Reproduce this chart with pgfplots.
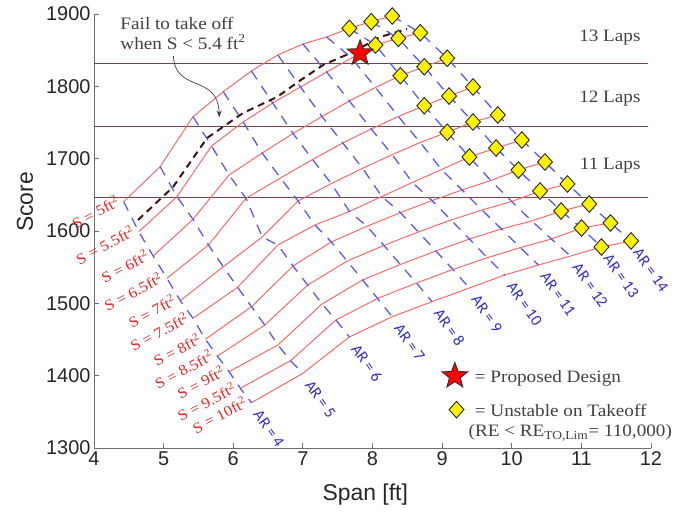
\documentclass[border=0pt]{standalone}
\usepackage{pgfplots}
\pgfplotsset{compat=1.18}
\usepackage{pgfplotstable}
\usepackage{fontspec}
\setmainfont{Liberation Serif}[FakeStretch=1.1]
\newfontfamily\sansf{Liberation Sans}
\newfontfamily\calib{Carlito}
\usetikzlibrary{arrows.meta}

\definecolor{redline}{RGB}{250,105,105}
\definecolor{redtext}{RGB}{235,35,35}
\definecolor{blueline}{RGB}{90,90,240}
\definecolor{bluetext}{RGB}{45,45,200}
\definecolor{lapline}{RGB}{115,70,70}
\definecolor{darktext}{RGB}{64,64,64}
\definecolor{faildash}{RGB}{60,20,20}
\definecolor{axgray}{RGB}{110,110,110}

\tikzset{
  slab/.style={anchor=base east, xshift=-2bp, yshift=-3bp, rotate=28, text=redtext, font=\fontsize{15}{15}\selectfont, inner sep=1bp},
  alab/.style={anchor=west, xshift=5bp, yshift=-8bp, rotate=-55, text=bluetext, font=\calib\fontsize{16}{16}\selectfont, inner sep=1bp},
  dtxt/.style={text=darktext, font=\fontsize{17.5}{19}\selectfont},
}

\pgfdeclareplotmark{fstar}{%
  \pgfpathmoveto{\pgfpointpolar{90}{\pgfplotmarksize}}%
  \pgfpathlineto{\pgfpointpolar{126}{0.42\pgfplotmarksize}}%
  \pgfpathlineto{\pgfpointpolar{162}{\pgfplotmarksize}}%
  \pgfpathlineto{\pgfpointpolar{198}{0.42\pgfplotmarksize}}%
  \pgfpathlineto{\pgfpointpolar{234}{\pgfplotmarksize}}%
  \pgfpathlineto{\pgfpointpolar{270}{0.42\pgfplotmarksize}}%
  \pgfpathlineto{\pgfpointpolar{306}{\pgfplotmarksize}}%
  \pgfpathlineto{\pgfpointpolar{342}{0.42\pgfplotmarksize}}%
  \pgfpathlineto{\pgfpointpolar{18}{\pgfplotmarksize}}%
  \pgfpathlineto{\pgfpointpolar{54}{0.42\pgfplotmarksize}}%
  \pgfpathclose
  \pgfusepathqfillstroke
}

% constant-S curves: si = index of wing area S = 5 + 0.5*si ; b: span [ft] ; sc: score ; u: unstable on takeoff
\pgfplotstableread{
si AR b sc u
0 4 4.427 1640.5 0
0 5 4.950 1688.9 0
0 6 5.422 1758.0 0
0 7 5.857 1792.6 0
0 8 6.261 1821.2 0
0 9 6.641 1843.3 0
0 10 7.000 1858.5 0
0 11 7.342 1868.2 0
0 12 7.668 1880.2 1
0 13 7.982 1889.4 1
0 14 8.284 1897.2 1
1 4 4.643 1599.0 0
1 5 5.192 1647.4 0
1 6 5.688 1717.5 0
1 7 6.143 1750.7 0
1 8 6.567 1777.0 0
1 9 6.966 1799.1 0
1 10 7.342 1819.8 0
1 11 7.700 1839.2 0
1 12 8.043 1857.1 1
1 13 8.371 1866.4 1
1 14 8.687 1874.1 1
2 4 4.850 1565.4 0
2 5 5.422 1616.2 0
2 6 5.940 1677.4 0
2 7 6.416 1707.8 0
2 8 6.859 1734.8 0
2 9 7.275 1758.3 0
2 10 7.668 1779.7 0
2 11 8.043 1798.4 0
2 12 8.400 1814.7 1
2 13 8.744 1827.1 1
2 14 9.073 1838.8 1
3 4 5.048 1534.6 0
3 5 5.644 1580.6 0
3 6 6.183 1645.2 0
3 7 6.678 1673.3 0
3 8 7.139 1698.8 0
3 9 7.573 1721.7 0
3 10 7.982 1741.0 0
3 11 8.371 1758.3 0
3 12 8.744 1773.2 1
3 13 9.100 1786.6 1
3 14 9.444 1799.1 1
4 4 5.239 1503.6 0
4 5 5.857 1550.6 0
4 6 6.416 1591.7 0
4 7 6.930 1641.5 0
4 8 7.408 1665.5 0
4 9 7.858 1686.7 0
4 10 8.283 1705.6 0
4 11 8.687 1722.3 0
4 12 9.073 1736.5 1
4 13 9.444 1750.7 1
4 14 9.800 1760.4 1
5 4 5.422 1479.3 0
5 5 6.063 1522.2 0
5 6 6.641 1580.6 0
5 7 7.174 1608.3 0
5 8 7.669 1627.0 0
5 9 8.134 1647.7 0
5 10 8.573 1667.0 0
5 11 8.992 1685.0 0
5 12 9.392 1702.3 1
5 13 9.775 1714.7 1
5 14 10.145 1725.8 1
6 4 5.600 1450.3 0
6 5 6.262 1495.3 0
6 6 6.859 1551.6 0
6 7 7.408 1584.8 0
6 8 7.920 1606.5 0
6 9 8.400 1625.4 0
6 10 8.855 1642.0 0
6 11 9.287 1656.7 0
6 12 9.700 1669.8 0
6 13 10.096 1684.3 1
6 14 10.477 1695.4 1
7 4 5.773 1427.2 0
7 5 6.454 1470.0 0
7 6 7.070 1525.3 0
7 7 7.637 1558.5 0
7 8 8.164 1580.0 0
7 9 8.659 1598.6 0
7 10 9.128 1615.2 0
7 11 9.573 1629.0 0
7 12 9.999 1640.8 0
7 13 10.407 1655.3 1
7 14 10.800 1665.0 1
8 4 5.940 1405.5 0
8 5 6.641 1442.4 0
8 6 7.275 1499.1 0
8 7 7.858 1532.3 0
8 8 8.400 1553.7 0
8 9 8.910 1572.3 0
8 10 9.392 1588.9 0
8 11 9.851 1602.8 0
8 12 10.288 1613.8 0
8 13 10.709 1627.6 1
8 14 11.113 1637.3 1
9 4 6.102 1382.5 0
9 5 6.823 1420.7 0
9 6 7.475 1477.0 0
9 7 8.073 1506.7 0
9 8 8.631 1528.1 0
9 9 9.155 1546.8 0
9 10 9.650 1563.0 0
9 11 10.121 1577.0 0
9 12 10.570 1588.9 0
9 13 11.002 1604.1 1
9 14 11.418 1611.1 1
10 4 6.262 1362.6 0
10 5 7.000 1403.3 0
10 6 7.668 1453.5 0
10 7 8.283 1481.5 0
10 8 8.855 1502.3 0
10 9 9.392 1521.2 0
10 10 9.900 1539.2 0
10 11 10.383 1553.0 0
10 12 10.844 1565.4 0
10 13 11.288 1577.9 1
10 14 11.714 1586.2 1
}\grid

% the same grid, ordered by aspect ratio (constant-AR lines, S = 5 ... 10)
\pgfplotstableread{
AR b sc
4 4.427 1640.5
4 4.643 1599.0
4 4.850 1565.4
4 5.048 1534.6
4 5.239 1503.6
4 5.422 1479.3
4 5.600 1450.3
4 5.773 1427.2
4 5.940 1405.5
4 6.102 1382.5
4 6.262 1362.6
5 4.950 1688.9
5 5.192 1647.4
5 5.422 1616.2
5 5.644 1580.6
5 5.857 1550.6
5 6.063 1522.2
5 6.262 1495.3
5 6.454 1470.0
5 6.641 1442.4
5 6.823 1420.7
5 7.000 1403.3
6 5.422 1758.0
6 5.688 1717.5
6 5.940 1677.4
6 6.183 1645.2
6 6.416 1591.7
6 6.641 1580.6
6 6.859 1551.6
6 7.070 1525.3
6 7.275 1499.1
6 7.475 1477.0
6 7.668 1453.5
7 5.857 1792.6
7 6.143 1750.7
7 6.416 1707.8
7 6.678 1673.3
7 6.930 1641.5
7 7.174 1608.3
7 7.408 1584.8
7 7.637 1558.5
7 7.858 1532.3
7 8.073 1506.7
7 8.283 1481.5
8 6.261 1821.2
8 6.567 1777.0
8 6.859 1734.8
8 7.139 1698.8
8 7.408 1665.5
8 7.669 1627.0
8 7.920 1606.5
8 8.164 1580.0
8 8.400 1553.7
8 8.631 1528.1
8 8.855 1502.3
9 6.641 1843.3
9 6.966 1799.1
9 7.275 1758.3
9 7.573 1721.7
9 7.858 1686.7
9 8.134 1647.7
9 8.400 1625.4
9 8.659 1598.6
9 8.910 1572.3
9 9.155 1546.8
9 9.392 1521.2
10 7.000 1858.5
10 7.342 1819.8
10 7.668 1779.7
10 7.982 1741.0
10 8.283 1705.6
10 8.573 1667.0
10 8.855 1642.0
10 9.128 1615.2
10 9.392 1588.9
10 9.650 1563.0
10 9.900 1539.2
11 7.342 1868.2
11 7.700 1839.2
11 8.043 1798.4
11 8.371 1758.3
11 8.687 1722.3
11 8.992 1685.0
11 9.287 1656.7
11 9.573 1629.0
11 9.851 1602.8
11 10.121 1577.0
11 10.383 1553.0
12 7.668 1880.2
12 8.043 1857.1
12 8.400 1814.7
12 8.744 1773.2
12 9.073 1736.5
12 9.392 1702.3
12 9.700 1669.8
12 9.999 1640.8
12 10.288 1613.8
12 10.570 1588.9
12 10.844 1565.4
13 7.982 1889.4
13 8.371 1866.4
13 8.744 1827.1
13 9.100 1786.6
13 9.444 1750.7
13 9.775 1714.7
13 10.096 1684.3
13 10.407 1655.3
13 10.709 1627.6
13 11.002 1604.1
13 11.288 1577.9
14 8.284 1897.2
14 8.687 1874.1
14 9.073 1838.8
14 9.444 1799.1
14 9.800 1760.4
14 10.145 1725.8
14 10.477 1695.4
14 10.800 1665.0
14 11.113 1637.3
14 11.418 1611.1
14 11.714 1586.2
}\gridAR

\pgfplotstableread{
b sc
4.632 1615.2
5.135 1660.8
5.624 1728.6
6.141 1763.1
6.629 1785.3
6.960 1808.0
7.290 1829.5
7.721 1847.5
8.109 1868.2
8.497 1879.3
}\faildata

\begin{document}
\begin{tikzpicture}
\begin{axis}[
  at={(0,0)}, anchor=south west,
  scale only axis, width=557bp, height=434bp,
  xmin=4, xmax=12, ymin=1300, ymax=1900,
  axis lines=left, axis line style={-, axgray, line width=0.9bp},
  xtick={4,5,...,12}, ytick={1300,1400,...,1900},
  tick align=inside, major tick length=5bp,
  tick style={axgray, line width=0.9bp},
  /pgf/number format/assume math mode=true,
  /pgf/number format/1000 sep={},
  ticklabel style={font=\sansf\fontsize{20}{20}\selectfont, text=black!85},
  xlabel={Span [ft]}, ylabel={Score},
  label style={font=\sansf\fontsize{23}{23}\selectfont, text=black!85},
  xlabel style={at={(axis description cs:0.487,-0.108)}, anchor=center},
  ylabel style={at={(axis description cs:-0.124,0.567)}, anchor=center},
  clip=false,
]
% lap boundaries
\addplot[lapline, line width=0.9bp] coordinates {(4,1832) (11.95,1832)};
\addplot[lapline, line width=0.9bp] coordinates {(4,1744) (11.95,1744)};
\addplot[lapline, line width=0.9bp] coordinates {(4,1646) (11.95,1646)};
% constant-S curves
\pgfplotsinvokeforeach{0,1,2,3,4,5,6,7,8,9,10}{
  \addplot[redline, line width=1bp, restrict expr to domain={\thisrow{si}}{#1:#1}]
    table[x=b, y=sc] {\grid};
}
% constant-AR lines
\pgfplotsinvokeforeach{4,5,6,7,8,9,10,11,12,13,14}{
  \addplot[blueline, line width=1.3bp, dash pattern=on 10bp off 8bp, restrict expr to domain={\thisrow{AR}}{#1:#1}]
    table[x=b, y=sc] {\gridAR};
}
% fail to take off boundary
\addplot[faildash, line width=2bp, dash pattern=on 7bp off 5bp] table[x=b, y=sc] {\faildata};
% unstable points
\addplot[only marks, mark=diamond*, mark size=8.3bp,
  mark options={fill=yellow, draw=black!85, line width=0.9bp, xscale=1.2},
  restrict expr to domain={\thisrow{u}}{1:1}] table[x=b, y=sc] {\grid};
% proposed design
\addplot[only marks, mark=fstar, mark size=13.5bp,
  mark options={fill=red, draw=black!80, line width=0.9bp}] coordinates {(7.822,1845.7)};
% legend markers
\addplot[only marks, mark=fstar, mark size=13.5bp,
  mark options={fill=red, draw=black!80, line width=0.9bp}] coordinates {(9.183,1399.5)};
\addplot[only marks, mark=diamond*, mark size=8.3bp,
  mark options={fill=yellow, draw=black!85, line width=0.9bp, xscale=1.2}] coordinates {(9.207,1353)};

% legend texts
\node[anchor=west, dtxt] at (axis cs:9.42,1397) {= Proposed Design};
\node[anchor=west, dtxt] at (axis cs:9.42,1351.6) {= Unstable on Takeoff};
\node[anchor=west, dtxt] at (axis cs:9.33,1320.5) {(RE < RE\textsubscript{TO,Lim}= 110,000)};

% lap labels
\node[anchor=east, dtxt] at (axis cs:11.9,1867) {13 Laps};
\node[anchor=east, dtxt] at (axis cs:11.9,1783.5) {12 Laps};
\node[anchor=east, dtxt] at (axis cs:11.9,1690.3) {11 Laps};

% annotation
\node[anchor=base west, dtxt] at (axis cs:4.33,1878) {Fail to take off};
\node[anchor=base west, dtxt] at (axis cs:4.33,1851.5) {when S < 5.4 ft\textsuperscript{2}};
\draw[darktext, line width=0.7bp, -{Stealth[length=7bp,width=5bp]}]
  (axis cs:5.14,1842) .. controls (axis cs:5.17,1790) and (axis cs:5.78,1818) .. (axis cs:5.80,1757);

% S labels
\node[slab] at (axis cs:4.427,1640.5) {S = 5ft\textsuperscript{2}};
\node[slab] at (axis cs:4.643,1599.0) {S = 5.5ft\textsuperscript{2}};
\node[slab] at (axis cs:4.850,1565.4) {S = 6ft\textsuperscript{2}};
\node[slab] at (axis cs:5.048,1534.6) {S = 6.5ft\textsuperscript{2}};
\node[slab] at (axis cs:5.239,1503.6) {S = 7ft\textsuperscript{2}};
\node[slab] at (axis cs:5.422,1479.3) {S = 7.5ft\textsuperscript{2}};
\node[slab] at (axis cs:5.600,1450.3) {S = 8ft\textsuperscript{2}};
\node[slab] at (axis cs:5.773,1427.2) {S = 8.5ft\textsuperscript{2}};
\node[slab] at (axis cs:5.940,1405.5) {S = 9ft\textsuperscript{2}};
\node[slab] at (axis cs:6.102,1382.5) {S = 9.5ft\textsuperscript{2}};
\node[slab] at (axis cs:6.262,1362.6) {S = 10ft\textsuperscript{2}};

% AR labels
\node[alab] at (axis cs:6.262,1362.6) {AR = 4};
\node[alab] at (axis cs:7.000,1403.3) {AR = 5};
\node[alab] at (axis cs:7.668,1453.5) {AR = 6};
\node[alab] at (axis cs:8.283,1481.5) {AR = 7};
\node[alab] at (axis cs:8.855,1502.3) {AR = 8};
\node[alab] at (axis cs:9.392,1521.2) {AR = 9};
\node[alab] at (axis cs:9.900,1539.2) {AR = 10};
\node[alab] at (axis cs:10.383,1553.0) {AR = 11};
\node[alab] at (axis cs:10.844,1565.4) {AR = 12};
\node[alab] at (axis cs:11.288,1577.9) {AR = 13};
\node[alab] at (axis cs:11.714,1586.2) {AR = 14};
\end{axis}
\pgfresetboundingbox
\path (-94bp,-66bp) rectangle (588bp,448bp);
\end{tikzpicture}
\end{document}
